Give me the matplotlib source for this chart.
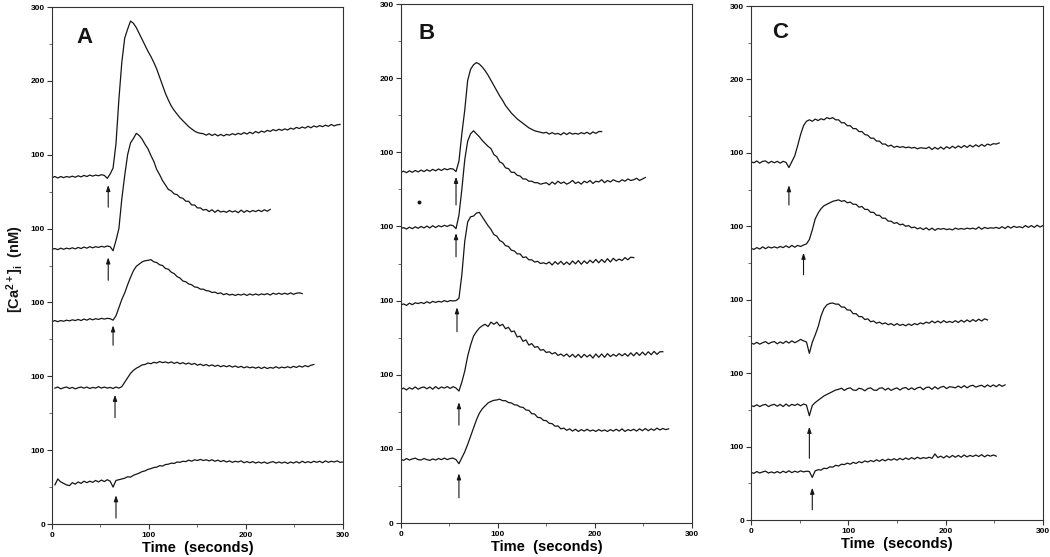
import numpy as np
import matplotlib
matplotlib.use("Agg")
import matplotlib.pyplot as plt
from matplotlib.ticker import FixedLocator

plt.rcParams['font.family'] = ['Liberation Sans', 'DejaVu Sans']
plt.rcParams['mathtext.fontset'] = 'custom'
plt.rcParams['mathtext.rm'] = 'Liberation Sans:bold'
plt.rcParams['mathtext.it'] = 'Liberation Sans:bold'
plt.rcParams['mathtext.bf'] = 'Liberation Sans:bold'

# ---------------- data ----------------
STEP = 3  # seconds between samples
# each trace: start time, values in nM (bottom trace first)
A_starts = [3, 3, 0, 0, 0]
A1 = [53,61,57,55,53,52,56,54,57,55,
      58,56,58,56.5,59,57,59.5,57.5,60,58,
      50,59,60,61,62,64,63.5,66,67.5,69,
      71,72,74,75,76.5,77,79,78.5,80.5,81,
      82.5,82,84,83.5,85,84.5,86.5,85,87,86,
      87.5,86,87,85.5,87,85,86.5,84.5,86,84,
      85.5,83.5,85,84,85.5,83,84.5,83,84.5,82.5,
      84,82.5,84,82,83.5,84.5,82.5,84,82.5,84,
      82,84,82.5,84.5,82.5,85,83,84.5,83,85,
      83.5,85,83,85.5,83.5,85,84,85.5,83.5,84]
A2 = [84,85.5,83,84.5,85.5,83.5,85,83,84.5,85.5,
      84,85.5,83.5,85,84,86,84,85.5,84,85,
      83.5,85.5,84,86,92,98,104,108,111,113,
      115.5,116,118,117,119,118,120,118.5,119.5,118,
      119.5,117.5,119,117,118.5,116.5,118,116,117.5,115,
      116.5,114.5,116,114,115.5,113.5,115,113,114.5,113,
      114.5,112.5,114,112,113.5,111.5,113,111.5,112.5,111,
      112.5,110.5,112.5,110.5,112,111,113,111,112.5,111.5,
      113,111.5,113.5,112,114,112.5,114.5,113,115,116]
A3 = [74,75.5,74,75.5,74.5,76,75,76.5,75.5,77,
      75.5,77.5,76,78,76.5,78,77,78.5,77.5,78.5,
      78,76,82,93,104,113,124,134,143,149,
      152,155,156.5,157,158,155,154,151,150,146,
      145,141,139,135,133,129,128,125,124,121,
      120.5,118,118,116,115.5,113.5,114,112,113,110.5,
      112,110,111,109.5,111,110,111.5,109.5,111.5,110,
      111.5,110,111.5,110.5,112,110,112.5,111,112.5,111,
      112.5,111,113,111,112.5,113,112]
A4 = [72,73,71.5,73.5,72,73.5,72.5,74,72.5,74.5,
      73,75,73.5,75.5,74,75.5,74.5,76,75,76.5,
      75.5,70,84,100,140,172,200,216,222,229,
      226,221,214,208,199,191,180,173,165,159,
      153,151,147,146,142,141,137,137,132,132,
      128,128,125,126,123,125.5,122,125,122.5,123.5,
      122,124.5,122.5,124,121.5,125,122,124.5,122.5,124.5,
      123,125,123,125.5,123.5,126]
A5 = [69,70.5,68.5,70.5,69,70.5,69.5,71,69.5,71.5,
      70,72,70.5,72.5,71,72.5,71.5,73,72,68,
      74,82,115,175,225,258,270,281,278,272,
      264,256,248,240,233,225,216,205,194,183,
      174,166,160,155,150,146,142,138,135,132,
      130,129,128.5,126.5,128.5,126,128,125.5,127.5,125.5,
      127.5,126.5,128.5,127,129,127.5,130,128,130.5,128.5,
      131.5,129.5,132,130.5,133,131.5,134,132.5,134.5,133,
      135,133.5,136,134.5,137,135.5,137.5,136,138.5,136.5,
      139,137.5,139.5,138,140,138.5,141,139,140.5,141]

B_starts = [0, 0, 0, 0, 0]
B1 = [86,84.5,87,85,86.5,87.5,85.5,85,87,85.5,
      84.5,86.5,85,87,85.5,87.5,85.5,87,87.5,85.5,
      80,88,96,106,117,128,139,148,154,158,
      162,164,165.5,166,167,165,165,162.5,162,159.5,
      159,156.5,156,152.5,152,147.5,147,142.5,142,138.5,
      138,134.5,134,130.5,131,127,128,125,127,124,
      126.5,123.5,126,124,126.5,124,125.5,123.5,126,124,
      125.5,123.5,126,124,126.5,124,127,123.5,126,124.5,
      126.5,124,127,124.5,127.5,124.5,127,125,128,125.5,
      127.5,126,127]
B2 = [80,82,79.5,82.5,80.5,83.5,80.5,82.5,83.5,81,
      83.5,80.5,84,81,83.5,82,84,81.5,84,82,
      78,90,105,125,140,152,158,163,166,168,
      165,171,168,171,166,168,162,164,158,159,
      151,152,145,147,140,142,137,138,133,134,
      130,131,128,130,126,128,125,128,124,127.5,
      123.5,127.5,123,127.5,124,127,122.5,128,123.5,128,
      123.5,128.5,124.5,127.5,125,128.5,125.5,128.5,125,129.5,
      125.5,130,126,130.5,126.5,131,127,131.5,127.5,131,
      131]
B3 = [94,95.5,93.5,96.5,94.5,97,96,97.5,96,98.5,
      96.5,99,97.5,99,98,100,98.5,100,99.5,100,
      103,135,180,206,213,214,218,219,213,207,
      201,196,189,187,181,179,174,173,168,167,
      163,163,158,159,155,155,152,153,150,151,
      149.5,152,148,152.5,149,153,148.5,152,148.5,153.5,
      149.5,154,149,153.5,150,154.5,151,155.5,151,155.5,
      151.5,156.5,152,157,153.5,156,154,158,155,158.5,
      158]
B4 = [97,98.5,96.5,99,97,99.5,97.5,100,98,100.5,
      98,101,98.5,101,99.5,101.5,100,102,101,97,
      115,150,190,215,225,229,225,221,216,212,
      208,205,197,194,187,185,179,178,173,173,
      169,168,164,164,161,161,159,159,157,158,
      159,156,160,157,161,158,160,157,159,162,
      158,160,157,161,159,162,158,161,160,163,
      159,162,160,163,161,160,163,161,164,162,
      163,165,162,164,166]
B5 = [73,74.5,72.5,75,73,75.5,73.5,76,74,76.5,
      74.5,77,75,77.5,75.5,78,76.5,78,77.5,74,
      88,125,157,197,212,218,221,219,215,210,
      204,197,190,183,176,170,163,158,153,149,
      145,142,139,136,133,131,129,128,127,126,
      127,124.5,126.5,124.5,125.5,123.5,126.5,124,126.5,124.5,
      125.5,124.5,126.5,125,127,124.5,127.5,125.5,128,128]

C_starts = [0, 0, 0, 0, 0]
C1 = [65,63.5,66,64,65.5,66.5,64,65.5,64,66,
      64,66.5,64.5,67,64.5,66.5,65,67,65.5,66.5,
      66,58,67,68.5,68,70.5,70,72.5,72,74.5,
      73.5,76,75.5,77.5,76,78.5,77,79.5,78,80.5,
      79,81,79.5,82,80,82.5,80.5,83,81.5,83.5,
      81.5,84,82,84.5,82.5,85,83,85.5,83.5,85,
      84,85.5,84,90,85,87,84.5,87.5,85,88,
      85.5,88,85.5,88.5,86,88,86.5,88.5,86.5,89,
      86,88.5,87,88.5,87]
C2 = [56,54.5,57,54.5,56.5,57.5,54.5,56.5,57.5,55,
      57.5,54.5,58,55,57.5,56,58,55.5,58,56.5,
      42,56,60,63,66,69,71,73,75,77,
      78,79.5,76.5,79,80,77,76.5,79.5,78.5,76,
      79,80,77,76.5,79.5,80,77,79.5,76.5,78.5,
      80,77,79.5,80.5,77.5,80,77.5,80,81,77.5,
      80.5,81,78,81.5,78.5,81,82,79,81.5,81,
      80,82.5,80,83,80,82.5,83.5,81,82.5,83.5,
      81,84,81.5,84,81.5,84.5,82,84]
C3 = [41,39.5,42,39.5,41.5,43,40,42,43,40,
      42.5,40.5,43.5,41,44,41.5,43.5,46,44,42.5,
      27,42,52,63,78,88,93,95,95.5,94,
      94,90,90,86,86,81,81,77,77,73,
      74,70,71,68,69.5,67,68.5,66,67.5,65,
      67.5,65,66.5,64.5,67,65,67.5,66,68.5,67,
      69.5,68,71,68.5,71,68.5,71.5,69,70.5,69,
      71.5,69,72,69.5,72.5,70,73,70.5,73.5,71,
      74,72.5]
C4 = [70,68.5,71,69,72,69.5,72,70.5,72,70.5,
      72.5,71,73.5,71,74,71.5,74,72.5,74.5,76,
      82,95,110,118,124,128,130,132,134,135,
      136,134,135,132,133,130,130,126,127,123,
      123,119,119,115,115,111,111,107,107,104,
      105,102,103,100,101,98,99,96.5,98,95.5,
      98,95,97.5,94.5,97,96,97,95.5,96.5,95,
      97.5,96,97,96,97.5,96.5,97.5,96,99,96,
      98.5,97,98,97.5,98.5,97,99.5,97,100,97.5,
      100,98.5,99.5,98,101,98.5,101,98.5,101.5,99,
      101]
C5 = [88,86.5,89,86,88.5,89,86,88.5,86.5,88.5,
      86,88.5,87,80,88,96,110,125,137,143,
      145,143,146,144,146.5,145,148,146.5,148,145,
      145,141,141,137,137,133,133,129,129,125,
      124,120,120,116,116,112,112,109,110.5,107.5,
      109,107.5,108.5,107,108,106.5,107.5,105.5,107,106.5,
      106,108,104.5,107.5,105,108,105,108.5,106,109,
      106.5,109.5,107,110,107.5,110.5,108,111,108.5,111.5,
      109,112,110.5,112.5,112,113.5]

OFFSET = 100  # nM offset between stacked traces

# stimulus arrows: (time, head, tail) in stacked display units
A_arrows = [(66, 39, 8), (65, 175, 144), (63, 269, 242), (58, 361, 330), (58, 459, 429)]
B_arrows = [(60, 67, 34), (60, 163, 132), (58, 291, 258), (57, 391, 359), (57, 467, 429)]
C_arrows = [(63, 44, 14), (60, 127, 84), (54, 364, 334), (39, 456, 429)]

ytick_vals = [0, 100, 200, 300, 400, 500, 600, 700]
ytick_labels = ['0', '100', '100', '100', '100', '100', '200', '300']
xtick_vals = [0, 100, 200, 300]

panels = [
    ('A', [A1, A2, A3, A4, A5], A_starts, A_arrows, [0.0495, 0.0592, 0.2771, 0.9282], (0.113, 0.942)),
    ('B', [B1, B2, B3, B4, B5], B_starts, B_arrows, [0.3816, 0.0610, 0.2774, 0.9318], (0.09, 0.944)),
    ('C', [C1, C2, C3, C4, C5], C_starts, C_arrows, [0.7152, 0.0664, 0.2781, 0.9228], (0.10, 0.948)),
]

fig = plt.figure(figsize=(10.5, 5.57), dpi=100)
ink = '#151515'

for name, traces, starts, arrows, rect, lpos in panels:
    ax = fig.add_axes(rect)
    for k, (vals, t0) in enumerate(zip(traces, starts)):
        v = np.asarray(vals, dtype=float)
        t = t0 + STEP * np.arange(len(v))
        ax.plot(t, v + k * OFFSET, color=ink, lw=0.9)
    for (tt, head, tail) in arrows:
        ax.annotate('', xy=(tt, head), xytext=(tt, tail),
                    arrowprops=dict(arrowstyle='-|>,head_length=0.35,head_width=0.12',
                                    lw=0.8, color=ink, shrinkA=0, shrinkB=0))
    if name == 'B':
        ax.plot([19], [433], 'o', ms=1.8, color=ink)
    ax.set_xlim(0, 300)
    ax.set_ylim(0, 700)
    ax.yaxis.set_major_locator(FixedLocator(ytick_vals))
    ax.set_yticklabels(ytick_labels)
    ax.yaxis.set_minor_locator(FixedLocator([50, 150, 250, 350, 450, 550, 650]))
    ax.xaxis.set_major_locator(FixedLocator(xtick_vals))
    ax.set_xticklabels([str(v) for v in xtick_vals])
    ax.xaxis.set_minor_locator(FixedLocator([50, 150, 250]))
    ax.tick_params(axis='both', which='major', length=3.5, width=0.8, color='#333333',
                   labelsize=6, pad=1.5)
    ax.tick_params(axis='x', which='major', pad=2.5)
    ax.tick_params(axis='both', which='minor', length=2, width=0.6, color='#555555')
    for lab in ax.get_xticklabels() + ax.get_yticklabels():
        lab.set_fontweight('bold')
    for sp in ax.spines.values():
        sp.set_linewidth(0.8)
        sp.set_color('#333333')
    ax.text(lpos[0], lpos[1], name, transform=ax.transAxes, fontsize=16,
            fontweight='bold', ha='center', va='center', color=ink)
    ax.set_xlabel('Time  (seconds)', fontsize=10.5, fontweight='bold', labelpad=1.5)

fig.text(0.014, 0.517, r'[Ca$^{2+}$]$_{\rm i}$  (nM)', rotation=90, fontsize=10.5,
         fontweight='bold', ha='center', va='center', color=ink)

fig.savefig('out.png', dpi=100, facecolor='white')
